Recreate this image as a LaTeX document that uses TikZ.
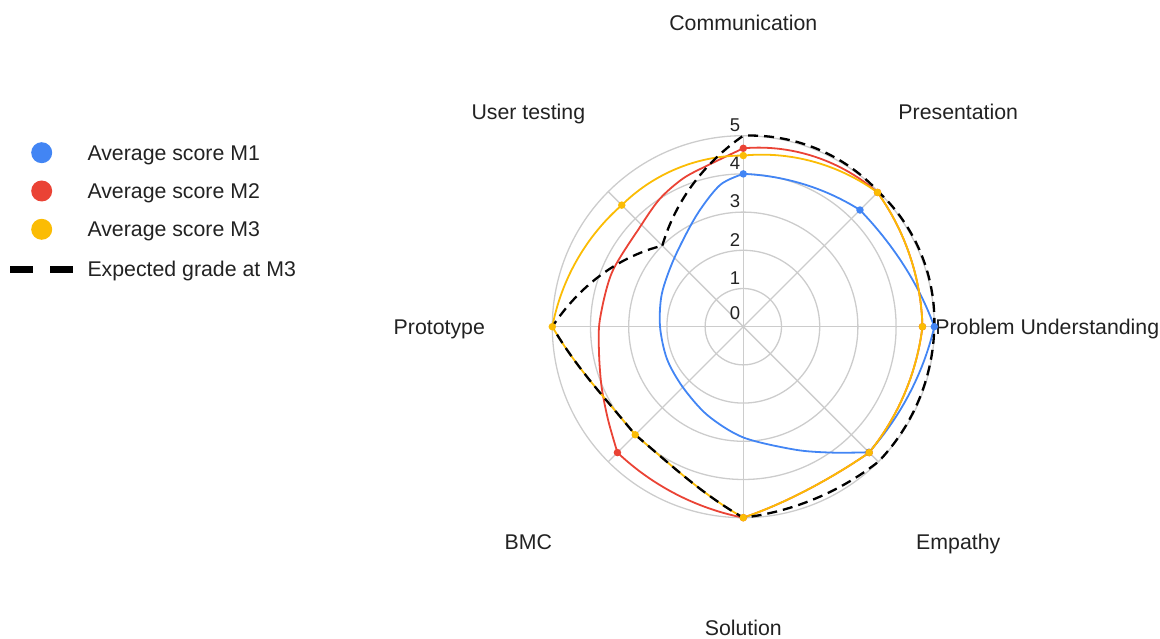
\documentclass[tikz,border=0pt]{standalone}
\usepackage{fontspec}
\setmainfont{Liberation Sans}
\definecolor{gblue}{HTML}{4285F4}
\definecolor{gred}{HTML}{EA4335}
\definecolor{gyellow}{HTML}{FBBC04}
\definecolor{gridgray}{HTML}{CCCCCC}
\definecolor{txt}{HTML}{222222}
\begin{document}
\begin{tikzpicture}[x=1pt,y=1pt,
  gridline/.style={draw=gridgray,line width=1.3pt},
  series/.style={line width=1.8pt,line join=round},
  expected/.style={line width=2.3pt,draw=black,dash pattern=on 10pt off 6pt},
  dot/.style={circle,inner sep=0pt,minimum size=7.5pt},
  axlab/.style={font=\fontsize{21.3pt}{25pt}\selectfont,text=txt,anchor=base,inner sep=0pt},
  ticklab/.style={font=\fontsize{18.5pt}{22pt}\selectfont,text=txt,inner sep=0pt},
  legtext/.style={font=\fontsize{21.3pt}{25pt}\selectfont,text=txt,anchor=base west,inner sep=0pt},
  legdot/.style={circle,inner sep=0pt,minimum size=21pt},
  seg/.style n args={6}{insert path={-- plot[domain=#1:#5,samples=30,smooth] (\x:{(#2)*(\x-(#3))*(\x-(#5))/(((#1)-(#3))*((#1)-(#5)))+(#4)*(\x-(#1))*(\x-(#5))/(((#3)-(#1))*((#3)-(#5)))+(#6)*(\x-(#1))*(\x-(#3))/(((#5)-(#1))*((#5)-(#3)))})}}]
\useasboundingbox (0,0) rectangle (1160,639);
\begin{scope}[shift={(743.3pt,312.3pt)},x=38.2pt,y=38.2pt]
  % grid
  \foreach \r in {1,...,5} \draw[gridline] (0,0) circle[radius=\r*38.2pt];
  \foreach \a in {0,45,...,315} \draw[gridline] (0,0) -- (\a:5);
  % tick labels
  \foreach \r in {1,...,5} \node[ticklab] (tick\r) at ([xshift=-8.3pt,yshift=10.5pt]0,\r) {\r};
  \node[ticklab] (tick0) at ([xshift=-8.3pt,yshift=13.4pt]0,0) {0};
  % axis labels
  \node[axlab,yshift=-7.5pt] (lcomm) at (90:304pt) {Communication};
  \node[axlab,yshift=-7.5pt] (lpres) at (45:304pt) {Presentation};
  \node[axlab,yshift=-7.5pt] (lprob) at (0:304pt) {Problem Understanding};
  \node[axlab,yshift=-7.5pt] (lemp) at (-45:304pt) {Empathy};
  \node[axlab,yshift=-5pt] (lsol) at (-90:304pt) {Solution};
  \node[axlab,yshift=-7.5pt] (lbmc) at (-135:304pt) {BMC};
  \node[axlab,yshift=-7.5pt] (lproto) at (180:304pt) {Prototype};
  \node[axlab,yshift=-7.5pt] (luser) at (135:304pt) {User testing};
  % M1
  \draw[series,gblue] (90:4.0)
    [seg={90}{4.0}{65.9}{4.06}{45}{4.32}]
    [seg={45}{4.32}{19.1}{4.53}{0}{5.0}]
    [seg={0}{5.0}{-23}{4.68}{-45}{4.65}]
    -- plot[smooth] coordinates {(-45:4.65) (-54.5:4.05) (-67:3.5) (-90:2.9) (-112:2.5) (-135:2.24) (-157:2.17) (-180:2.18) (-202:2.3) (-225:2.55) (-247.4:3.17) (-260.7:3.76) (-270:4.0)};
  % M2
  \draw[series,gred]
    plot[smooth] coordinates {(-135:4.66) (-145.4:4.3) (-157:4.03) (-169.6:3.84) (177.3:3.76) (157.5:3.72) (135.9:3.76) (123:4.0) (112:4.19) (102.2:4.33) (90:4.67)}
    [seg={90}{4.67}{69.8}{4.81}{45}{4.97}]
    [seg={45}{4.97}{26}{4.76}{0}{4.69}]
    [seg={0}{4.69}{-23.6}{4.57}{-45}{4.66}]
    [seg={-45}{4.66}{-68.8}{4.59}{-90}{5}]
    [seg={-90}{5}{-112.5}{4.72}{-135}{4.66}];
  % M3
  \draw[series,gyellow] (90:4.48)
    [seg={90}{4.48}{69.2}{4.67}{45}{4.97}]
    [seg={45}{4.97}{26}{4.76}{0}{4.69}]
    [seg={0}{4.69}{-23.6}{4.57}{-45}{4.66}]
    [seg={-45}{4.66}{-68.8}{4.59}{-90}{5}]
    [seg={-90}{5}{-108.8}{4.28}{-135}{4}]
    [seg={-135}{4}{-160.5}{4.25}{-180}{5}]
    [seg={180}{5}{160.6}{4.72}{135}{4.5}]
    [seg={135}{4.5}{114}{4.49}{90}{4.48}] -- cycle;
  % expected
  \draw[expected] (135:3)
    [seg={135}{3}{115}{3.71}{90}{5}]
    [seg={90}{5}{67.5}{5.04}{45}{5}]
    [seg={45}{5}{22.5}{5.03}{0}{5}]
    [seg={0}{5}{-22.5}{4.98}{-45}{5}]
    [seg={-45}{5}{-67.5}{4.88}{-90}{5}]
    [seg={-90}{5}{-108.8}{4.28}{-135}{4}]
    [seg={-135}{4}{-160.5}{4.25}{-180}{5}]
    [seg={180}{5}{155.2}{3.75}{135}{3}];
  % dots
  \node[dot,fill=gblue] (b1) at (90:4.0) {};
  \node[dot,fill=gblue] (b2) at (45:4.32) {};
  \node[dot,fill=gblue] (b3) at (0:5.0) {};
  \node[dot,fill=gblue] (b4) at (-45:4.65) {};
  \node[dot,fill=gred] (r1) at (90:4.67) {};
  \node[dot,fill=gred] (r2) at (45:4.97) {};
  \node[dot,fill=gred] (r3) at (0:4.69) {};
  \node[dot,fill=gred] (r4) at (-45:4.66) {};
  \node[dot,fill=gred] (r5) at (-90:5) {};
  \node[dot,fill=gred] (r6) at (-135:4.66) {};
  \node[dot,fill=gyellow] (y1) at (90:4.48) {};
  \node[dot,fill=gyellow] (y2) at (45:4.97) {};
  \node[dot,fill=gyellow] (y3) at (0:4.69) {};
  \node[dot,fill=gyellow] (y4) at (-45:4.66) {};
  \node[dot,fill=gyellow] (y5) at (-90:5) {};
  \node[dot,fill=gyellow] (y6) at (-135:4) {};
  \node[dot,fill=gyellow] (y7) at (180:5) {};
  \node[dot,fill=gyellow] (y8) at (135:4.5) {};
\end{scope}
% legend
\node[legdot,fill=gblue] (lg1) at (41.7,486.3) {};
\node[legtext] (lt1) at (87.3,478.8) {Average score M1};
\node[legdot,fill=gred] (lg2) at (41.7,448) {};
\node[legtext] (lt2) at (87.3,440.5) {Average score M2};
\node[legdot,fill=gyellow] (lg3) at (41.7,409.7) {};
\node[legtext] (lt3) at (87.3,402.2) {Average score M3};
\coordinate (ld1) at (10,369.7);
\coordinate (ld2) at (73.3,369.7);
\draw[line width=6.7pt,black,dash pattern=on 23.3pt off 16.7pt] (ld1) -- (ld2);
\node[legtext] (lt4) at (87.3,362.2) {Expected grade at M3};
\end{tikzpicture}
\end{document}
